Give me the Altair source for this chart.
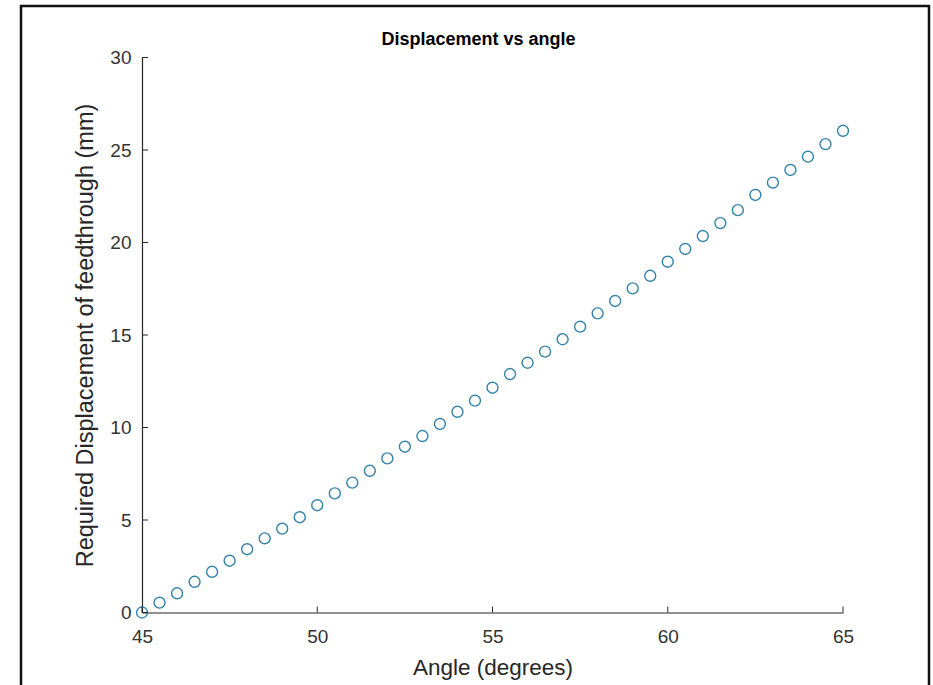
import altair as alt
import pandas as pd

# ---- data ----
angles = [45.0, 45.5, 46.0, 46.5, 47.0, 47.5, 48.0, 48.5, 49.0, 49.5,
          50.0, 50.5, 51.0, 51.5, 52.0, 52.5, 53.0, 53.5, 54.0, 54.5,
          55.0, 55.5, 56.0, 56.5, 57.0, 57.5, 58.0, 58.5, 59.0, 59.5,
          60.0, 60.5, 61.0, 61.5, 62.0, 62.5, 63.0, 63.5, 64.0, 64.5, 65.0]
displacement = [0.0, 0.53, 1.04, 1.66, 2.2, 2.8, 3.42, 4.01, 4.53, 5.15,
                5.8, 6.44, 7.02, 7.66, 8.33, 8.96, 9.54, 10.19, 10.85, 11.45,
                12.15, 12.89, 13.5, 14.1, 14.77, 15.45, 16.17, 16.84, 17.52, 18.2,
                18.96, 19.65, 20.35, 21.05, 21.75, 22.57, 23.24, 23.92, 24.64, 25.32, 26.04]
x_ticks = [45, 50, 55, 60, 65]
y_ticks = [0, 5, 10, 15, 20, 25, 30]
chart_title = "Displacement vs angle"

FONT = "Liberation Sans"
AX = "#262626"
W, H = 701, 555

df = pd.DataFrame({"angle": angles, "disp": displacement})
xt = pd.DataFrame({"angle": x_ticks})
yt = pd.DataFrame({"disp": y_ticks})
one = pd.DataFrame({"k": [0]})

xscale = alt.Scale(domain=[45, 65], nice=False, zero=False)
yscale = alt.Scale(domain=[0, 30], nice=False)

xaxis = alt.Axis(values=x_ticks, title="Angle (degrees)", labelPadding=15,
                 titlePadding=10, format="d", labelFlush=False, titleFontSize=22.5)
yaxis = alt.Axis(values=y_ticks, title="Required Displacement of feedthrough (mm)",
                 labelPadding=11, titlePadding=12, format="d", labelFlush=False,
                 titleFontSize=23.5)

points = alt.Chart(df).mark_point(
    shape="circle", filled=False, size=120, strokeWidth=1.4, color="#3382ab", opacity=1
).encode(
    x=alt.X("angle:Q", scale=xscale, axis=xaxis),
    y=alt.Y("disp:Q", scale=yscale, axis=yaxis),
)

xticks = alt.Chart(xt).mark_rule(color=AX, strokeWidth=1).encode(
    x=alt.X("angle:Q", scale=xscale, axis=xaxis),
    y=alt.value(H), y2=alt.value(H - 6),
)
yticks = alt.Chart(yt).mark_rule(color=AX, strokeWidth=1).encode(
    y=alt.Y("disp:Q", scale=yscale, axis=yaxis),
    x=alt.value(0), x2=alt.value(6),
)

frame = alt.Chart(one).mark_rect(fill=None, stroke="#111111", strokeWidth=2.5).encode(
    x=alt.value(21 - 142), x2=alt.value(929 - 142),
    y=alt.value(6 - 57.5), y2=alt.value(H + 200),
)

title = alt.Chart(one).mark_text(
    font=FONT, fontSize=18, fontWeight="bold", color="#000000",
    align="center", baseline="middle",
).encode(
    x=alt.value(W / 2 - 14), y=alt.value(40 - 57.5), text=alt.value(chart_title),
)

chart = alt.layer(points, xticks, yticks, frame, title).properties(
    width=W, height=H,
    background="white",
    autosize=alt.AutoSizeParams(type="none"),
    padding={"left": 142, "top": 57.5, "right": 90, "bottom": 72.5},
).configure_view(stroke=None).configure_axis(
    grid=False, ticks=False, tickSize=0, domainColor=AX, domainWidth=1.2,
    labelFont=FONT, labelFontSize=19, labelColor="#333333",
    titleFont=FONT, titleFontWeight="normal", titleColor=AX,
)

chart.save("out.html", embed_options={"renderer": "svg", "actions": False})
